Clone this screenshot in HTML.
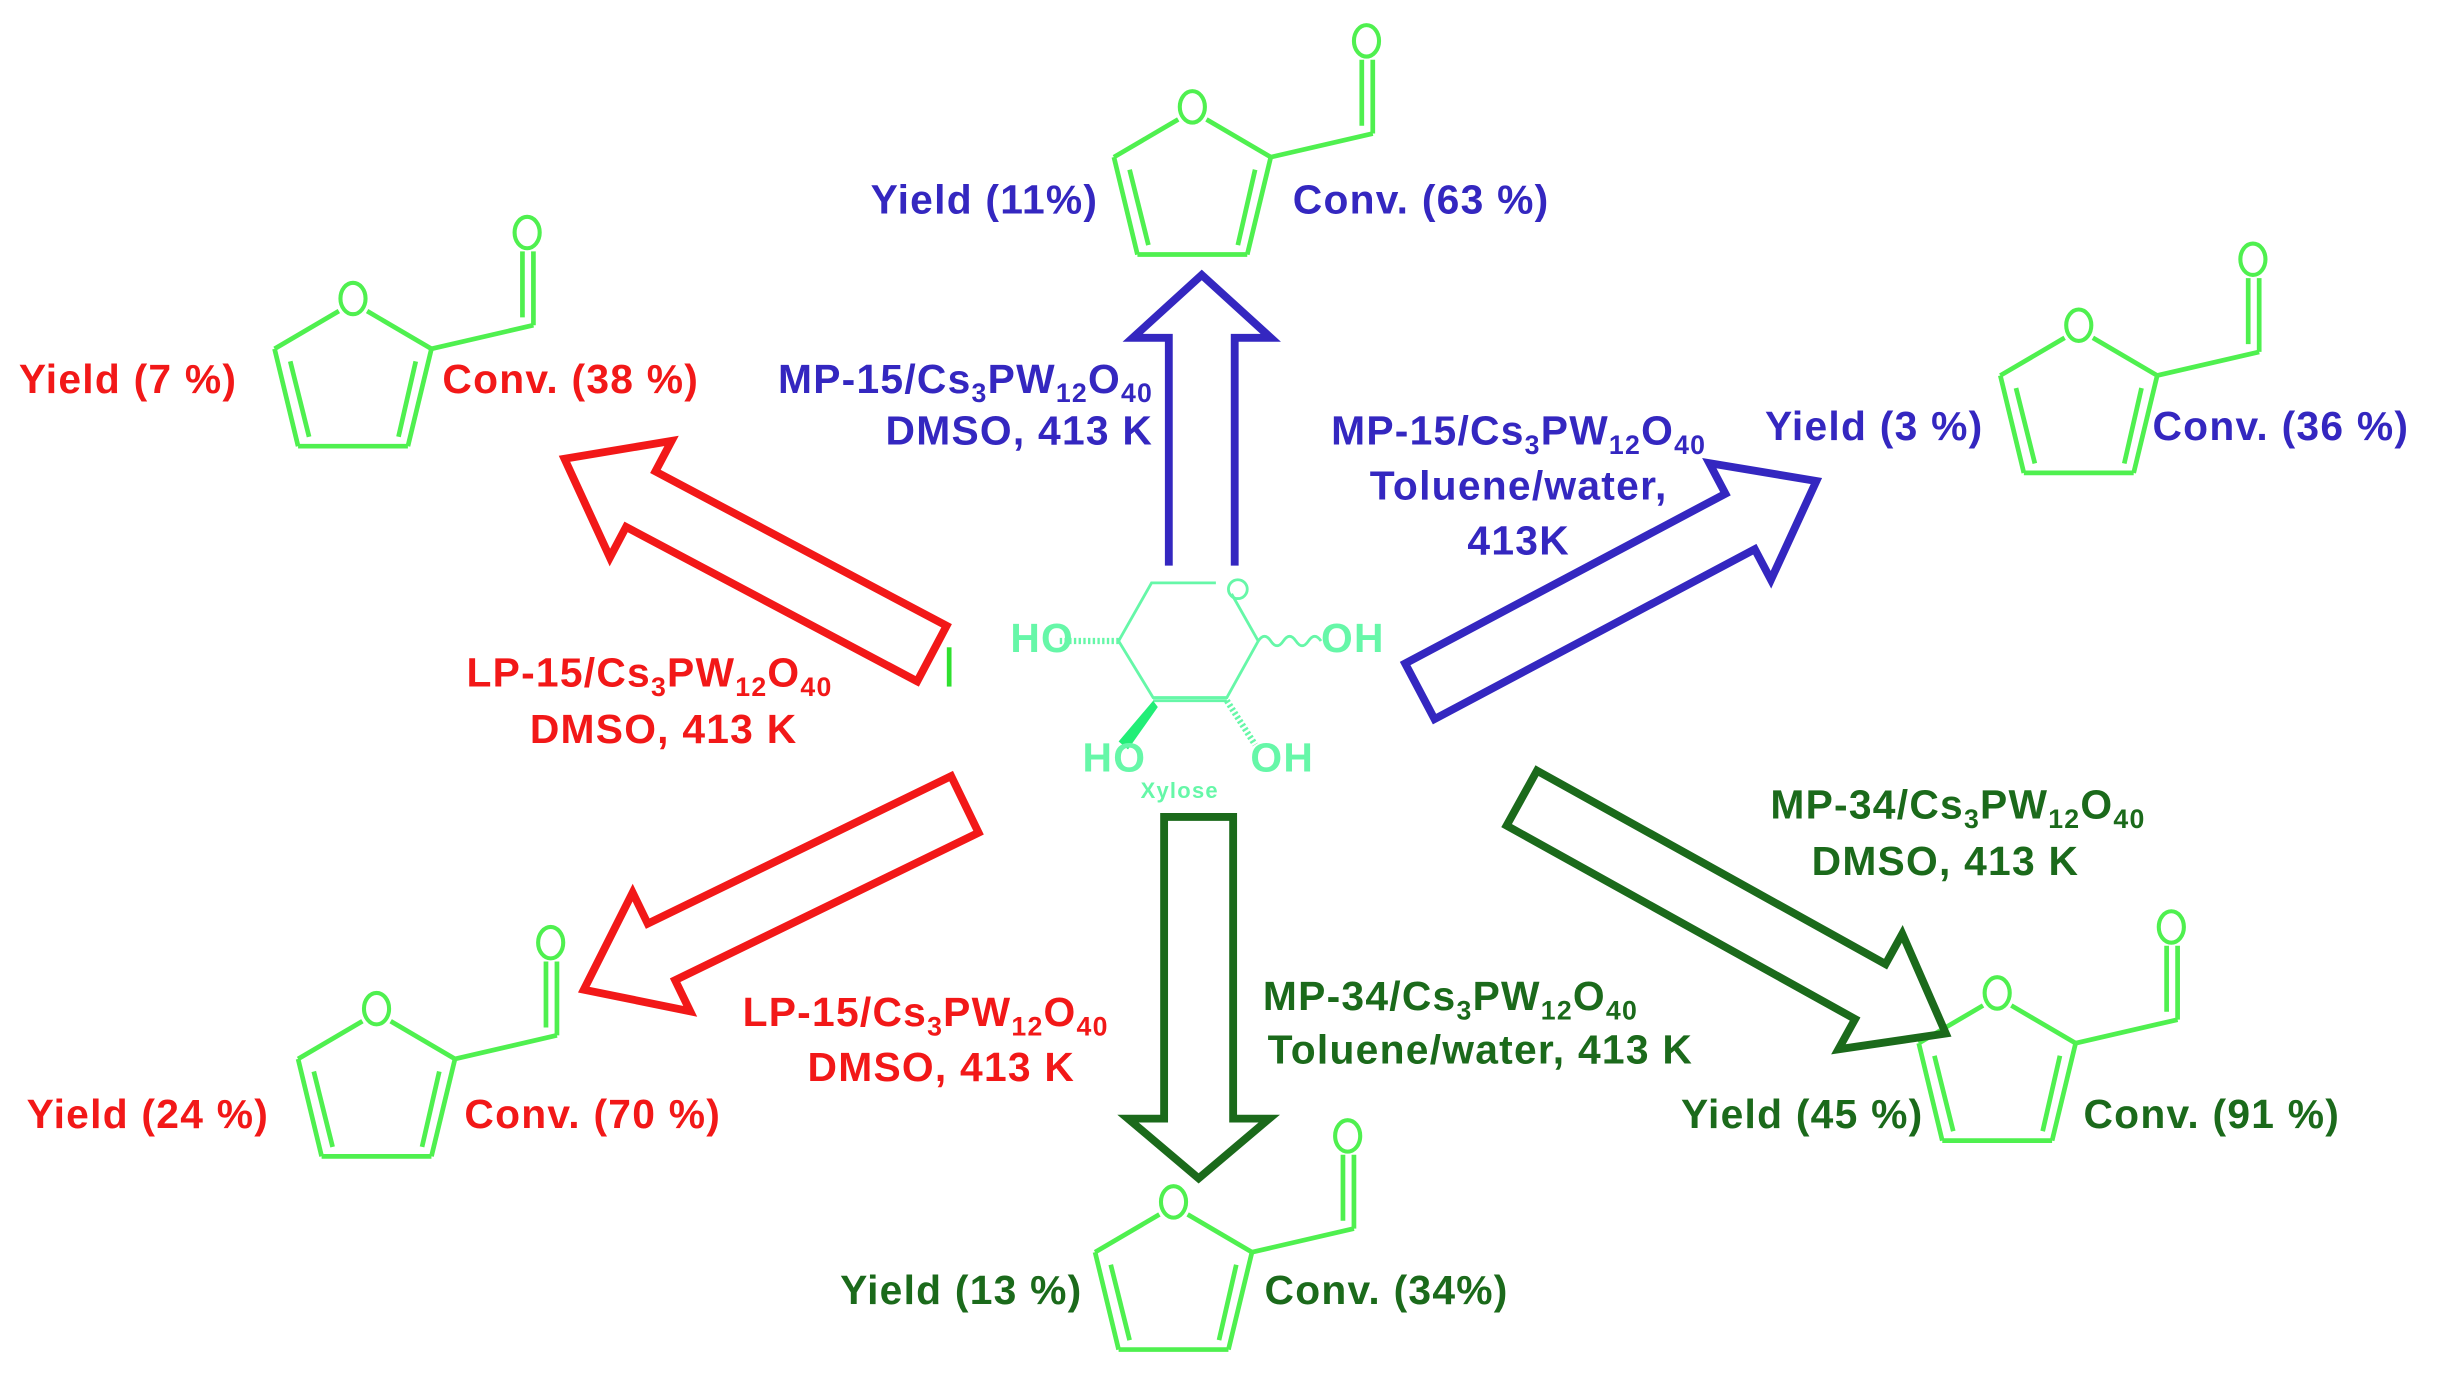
<!DOCTYPE html>
<html><head><meta charset="utf-8"><style>
html,body{margin:0;padding:0;background:#fff}
svg{display:block}
text{font-family:"Liberation Sans",Arial,sans-serif;font-weight:bold;font-size:26px;letter-spacing:0.8px}
</style></head><body>
<svg width="2460" height="1381" viewBox="0 0 1568 879" preserveAspectRatio="none" xmlns="http://www.w3.org/2000/svg">
<defs>
<g id="fur" fill="none" stroke="#4ff04f" stroke-width="3">
<line x1="-9" y1="8" x2="-50" y2="32"/>
<line x1="9" y1="8" x2="50" y2="32"/>
<line x1="-50" y1="32" x2="-35" y2="94"/>
<line x1="-40" y1="40" x2="-28" y2="88"/>
<line x1="-35" y1="94" x2="35" y2="94"/>
<line x1="50" y1="32" x2="35" y2="94"/>
<line x1="40" y1="40" x2="29" y2="88"/>
<line x1="50" y1="32" x2="115" y2="17"/>
<line x1="115" y1="17" x2="115" y2="-30"/>
<line x1="108" y1="12" x2="108" y2="-30"/>
<ellipse cx="0" cy="0" rx="8" ry="10" stroke-width="2.6"/>
<ellipse cx="111" cy="-42" rx="8" ry="10" stroke-width="2.6"/>
</g>
</defs>

<use href="#fur" x="760" y="68"/>
<use href="#fur" x="225" y="190"/>
<use href="#fur" x="1325" y="207"/>
<use href="#fur" x="240" y="642"/>
<use href="#fur" x="748" y="765"/>
<use href="#fur" x="1273" y="632"/>

<g fill="none" stroke-width="5" stroke-linejoin="miter">
<path stroke="#3427c0" d="M745,360 L745,215 L722,215 L766,175 L810,215 L787,215 L787,360"/>
<path stroke="#1b6a1b" transform="translate(764,520) rotate(90)" d="M0,-22 L192,-22 L192,-45 L230,0 L192,45 L192,22 L0,22 Z"/>
<path stroke="#f21818" transform="translate(594,416) rotate(207.9)" d="M0,-20 L210,-20 L210,-42 L265,0 L210,42 L210,20 L0,20 Z"/>
<path stroke="#f21818" transform="translate(615,512) rotate(154.1)" d="M0,-20 L215,-20 L215,-42 L270,0 L215,42 L215,20 L0,20 Z"/>
<path stroke="#3427c0" transform="translate(905,440) rotate(-27.9)" d="M0,-20 L231,-20 L231,-42 L286,0 L231,42 L231,20 L0,20 Z"/>
<path stroke="#1b6a1b" transform="translate(970,508) rotate(29)" d="M0,-20 L254,-20 L254,-42 L309,0 L254,42 L254,20 L0,20 Z"/>
</g>
<line x1="605" y1="412" x2="605" y2="437" stroke="#2fe02f" stroke-width="3"/>

<g fill="none" stroke="#66f7a8" stroke-width="1.8">
<polyline points="775,371 734,371 713,408 735,444 782,444 802,408 785,378"/>
<line x1="735" y1="446" x2="782" y2="446"/>
<line x1="713" y1="408" x2="675" y2="408" stroke-dasharray="1.5,1.5" stroke-width="4"/>
<path d="M802,408 q4,-6 8,0 t8,0 t8,0 t8,0 t8,0"/>
<line x1="782" y1="446" x2="800" y2="474" stroke-dasharray="1.5,1.5" stroke-width="4"/>
<ellipse cx="789" cy="375" rx="6" ry="6"/>
</g>
<polygon points="735,446 738,450 719,477 713,472" fill="#22ee77"/>
<g fill="#66f7a8" style="font-weight:normal;font-size:17px;letter-spacing:0">
<text x="644" y="415">HO</text>
<text x="842" y="415">OH</text>
<text x="690" y="491">HO</text>
<text x="797" y="491">OH</text>
<text x="727" y="508" style="font-size:14px">Xylose</text>
</g>

<g fill="#3427c0">
<text x="700" y="136" text-anchor="end">Yield (11%)</text>
<text x="824" y="136">Conv. (63 %)</text>
<text x="735" y="250" text-anchor="end">MP-15/Cs<tspan dy="6" font-size="17">3</tspan><tspan dy="-6">PW</tspan><tspan dy="6" font-size="17">12</tspan><tspan dy="-6">O</tspan><tspan dy="6" font-size="17">40</tspan></text>
<text x="735" y="283" text-anchor="end">DMSO, 413 K</text>
<text x="1125" y="280">Yield (3 %)</text>
<text x="1372" y="280">Conv. (36 %)</text>
<text x="968" y="283" text-anchor="middle">MP-15/Cs<tspan dy="6" font-size="17">3</tspan><tspan dy="-6">PW</tspan><tspan dy="6" font-size="17">12</tspan><tspan dy="-6">O</tspan><tspan dy="6" font-size="17">40</tspan></text>
<text x="968" y="318" text-anchor="middle">Toluene/water,</text>
<text x="968" y="353" text-anchor="middle">413K</text>
</g>
<g fill="#f21818">
<text x="12" y="250">Yield (7 %)</text>
<text x="282" y="250">Conv. (38 %)</text>
<text x="414" y="437" text-anchor="middle">LP-15/Cs<tspan dy="6" font-size="17">3</tspan><tspan dy="-6">PW</tspan><tspan dy="6" font-size="17">12</tspan><tspan dy="-6">O</tspan><tspan dy="6" font-size="17">40</tspan></text>
<text x="423" y="473" text-anchor="middle">DMSO, 413 K</text>
<text x="590" y="653" text-anchor="middle">LP-15/Cs<tspan dy="6" font-size="17">3</tspan><tspan dy="-6">PW</tspan><tspan dy="6" font-size="17">12</tspan><tspan dy="-6">O</tspan><tspan dy="6" font-size="17">40</tspan></text>
<text x="600" y="688" text-anchor="middle">DMSO, 413 K</text>
<text x="17" y="718">Yield (24 %)</text>
<text x="296" y="718">Conv. (70 %)</text>
</g>
<g fill="#1b6a1b">
<text x="1248" y="521" text-anchor="middle">MP-34/Cs<tspan dy="6" font-size="17">3</tspan><tspan dy="-6">PW</tspan><tspan dy="6" font-size="17">12</tspan><tspan dy="-6">O</tspan><tspan dy="6" font-size="17">40</tspan></text>
<text x="1240" y="557" text-anchor="middle">DMSO, 413 K</text>
<text x="805" y="643">MP-34/Cs<tspan dy="6" font-size="17">3</tspan><tspan dy="-6">PW</tspan><tspan dy="6" font-size="17">12</tspan><tspan dy="-6">O</tspan><tspan dy="6" font-size="17">40</tspan></text>
<text x="808" y="677">Toluene/water, 413 K</text>
<text x="1226" y="718" text-anchor="end">Yield (45 %)</text>
<text x="1328" y="718">Conv. (91 %)</text>
<text x="690" y="830" text-anchor="end">Yield (13 %)</text>
<text x="806" y="830">Conv. (34%)</text>
</g>
</svg>
</body></html>
